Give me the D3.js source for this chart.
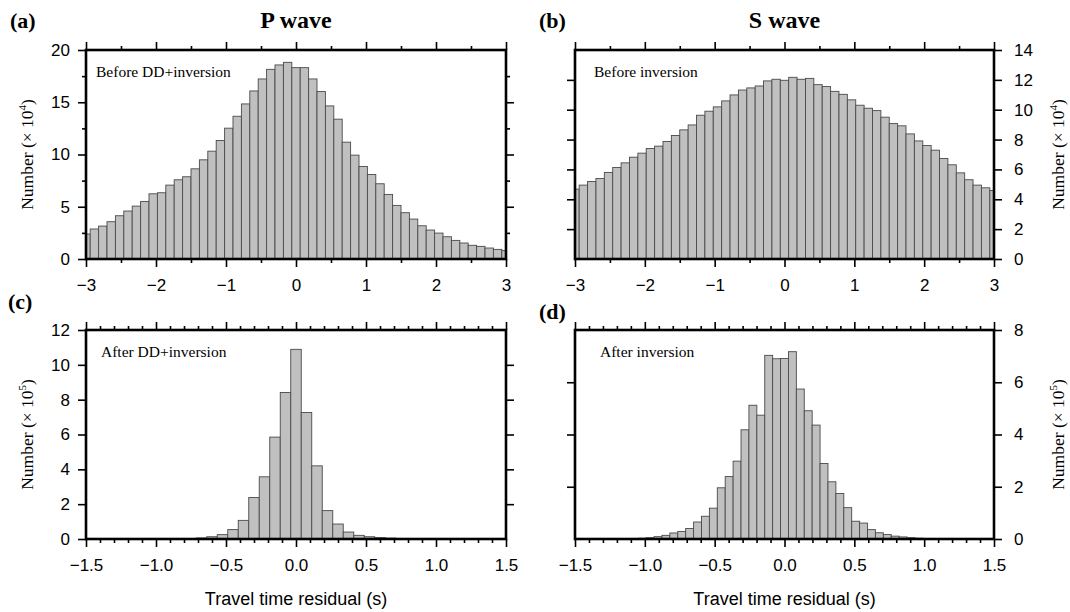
<!DOCTYPE html>
<html>
<head>
<meta charset="utf-8">
<script src="https://cdn.jsdelivr.net/npm/d3@7"></script>
<style>
  body { margin: 0; background: #fff; }
  svg { display: block; }
</style>
</head>
<body>
<svg id="chart" width="1070" height="612"></svg>
<script>
// Travel-time residual histograms. Counts per bin; bins are centred on k * binWidth.

// (a) P wave before DD+inversion, counts in units of 10^4, bin 0.12 s
const pBeforeBinWidth = 0.12;
const pBefore = [
  2.39, 2.87, 3.15, 3.57, 4.14, 4.59, 5.06, 5.51, 6.24, 6.34,
  7.07, 7.58, 7.87, 8.63, 9.49, 10.32, 11.34, 12.52, 13.66, 14.84,
  16.08, 17.23, 18.15, 18.57, 18.82, 18.31, 18.31, 17.23, 16.02, 14.65,
  13.38, 11.18, 9.94, 8.85, 8.09, 7.20, 6.18, 5.13, 4.43, 3.82,
  3.18, 2.77, 2.48, 2.13, 1.78, 1.53, 1.31, 1.21, 1.05, 0.92, 0.80
];

// (b) S wave before inversion, counts in units of 10^4, bin 0.12 s
const sBeforeBinWidth = 0.12;
const sBefore = [
  4.68, 4.95, 5.19, 5.39, 5.80, 6.13, 6.44, 6.82, 7.09, 7.40,
  7.56, 7.87, 8.27, 8.65, 8.98, 9.63, 9.90, 10.19, 10.59, 10.99,
  11.32, 11.46, 11.59, 11.93, 12.04, 11.97, 12.17, 12.04, 12.10, 11.68,
  11.55, 11.23, 11.03, 10.66, 10.30, 10.10, 9.94, 9.50, 9.07, 8.92,
  8.38, 7.91, 7.60, 7.29, 6.73, 6.31, 5.77, 5.31, 4.95, 4.77, 4.59
];

// (c) P wave after DD+inversion, counts in units of 10^5, bin 0.075 s
const pAfterBinWidth = 0.075;
const pAfter = [
  0.004, 0.004, 0.005, 0.006, 0.007, 0.008, 0.010, 0.012, 0.015, 0.02,
  0.03, 0.06, 0.13, 0.25, 0.54, 1.07, 2.38, 3.57, 5.85, 8.41,
  10.89,
  7.26, 4.20, 1.63, 0.86, 0.40, 0.21, 0.13, 0.08, 0.05, 0.03,
  0.02, 0.015, 0.012, 0.010, 0.008, 0.006, 0.005, 0.004, 0.003, 0.003
];

// (d) S wave after inversion, counts in units of 10^5, 53 bins over 3 s
const sAfterBinWidth = 3 / 53;
const sAfter = [
  0.003, 0.003, 0.004, 0.005, 0.006, 0.008,
  0.01, 0.02, 0.03, 0.05, 0.09, 0.14, 0.23, 0.29, 0.40, 0.65,
  0.87, 1.18, 1.96, 2.39, 2.98, 4.18, 5.12, 4.74,
  7.03, 6.90, 6.91, 7.17,
  5.74, 4.91, 4.36, 2.89, 2.19, 1.74, 1.20, 0.68, 0.61, 0.36,
  0.24, 0.17, 0.11, 0.08, 0.05, 0.03, 0.02, 0.01,
  0.008, 0.006, 0.005, 0.004, 0.003, 0.003, 0.002
];

// Tick values
const wideMajor = [-3, -2, -1, 0, 1, 2, 3];
const wideMinor = [-2.5, -1.5, -0.5, 0.5, 1.5, 2.5];
const narrowMajor = [-1.5, -1.0, -0.5, 0.0, 0.5, 1.0, 1.5];
const narrowMinor = d3.range(-14, 15).filter(i => i % 5 !== 0).map(i => i / 10);
const pBeforeYMajor = [0, 5, 10, 15, 20];
const pBeforeYMinor = [2.5, 7.5, 12.5, 17.5];
const sBeforeYMajor = [0, 2, 4, 6, 8, 10, 12, 14];
const pAfterYMajor = [0, 2, 4, 6, 8, 10, 12];
const sAfterYMajor = [0, 2, 4, 6, 8];

const svg = d3.select("#chart");
const SANS = "'Liberation Sans', Arial, Helvetica, sans-serif";
const SERIF = "'Liberation Serif', 'Times New Roman', serif";

const panels = [
  { left: 86, top: 50, width: 420, height: 209, xDomain: [-3, 3], yMax: 20,
    values: pBefore, binWidth: pBeforeBinWidth, xMajor: wideMajor, xMinor: wideMinor,
    yMajor: pBeforeYMajor, yMinor: pBeforeYMinor, side: "left", exp: "4",
    note: "Before DD+inversion", noteDx: 10, xFmt: d3.format("d"),
    tag: "(a)", tagX: 10, tagY: 20, title: "P wave", xTitle: false },
  { left: 575, top: 50, width: 419, height: 209, xDomain: [-3, 3], yMax: 14,
    values: sBefore, binWidth: sBeforeBinWidth, xMajor: wideMajor, xMinor: wideMinor,
    yMajor: sBeforeYMajor, yMinor: [], side: "right", exp: "4",
    note: "Before inversion", noteDx: 19, xFmt: d3.format("d"),
    tag: "(b)", tagX: 539, tagY: 20, title: "S wave", xTitle: false },
  { left: 86, top: 330, width: 420, height: 209, xDomain: [-1.5, 1.5], yMax: 12,
    values: pAfter, binWidth: pAfterBinWidth, xMajor: narrowMajor, xMinor: narrowMinor,
    yMajor: pAfterYMajor, yMinor: [], side: "left", exp: "5",
    note: "After DD+inversion", noteDx: 15, xFmt: d3.format(".1f"),
    tag: "(c)", tagX: 8, tagY: 301, title: null, xTitle: true },
  { left: 575, top: 330, width: 419, height: 209, xDomain: [-1.5, 1.5], yMax: 8,
    values: sAfter, binWidth: sAfterBinWidth, xMajor: narrowMajor, xMinor: narrowMinor,
    yMajor: sAfterYMajor, yMinor: [], side: "right", exp: "5",
    note: "After inversion", noteDx: 25, xFmt: d3.format(".1f"),
    tag: "(d)", tagX: 539, tagY: 311, title: null, xTitle: true }
];

function styleAxis(g, fontSize) {
  g.select(".domain").remove();
  g.selectAll(".tick line").attr("stroke", "#000").attr("stroke-width", 1.6);
  g.selectAll(".tick text").attr("fill", "#000")
    .style("font-family", SANS).style("font-size", fontSize + "px");
}

panels.forEach(p => {
  const x = d3.scaleLinear().domain(p.xDomain).range([p.left, p.left + p.width]);
  const y = d3.scaleLinear().domain([0, p.yMax]).range([p.top + p.height, p.top]);
  const g = svg.append("g");
  const n = p.values.length;
  const mid = (n - 1) / 2;

  // histogram bars, clipped to the axis range
  const bins = p.values.map((v, i) => {
    const c = (i - mid) * p.binWidth;
    return {
      x0: Math.max(p.xDomain[0], c - p.binWidth / 2),
      x1: Math.min(p.xDomain[1], c + p.binWidth / 2),
      v: v
    };
  });
  g.append("g").selectAll("rect").data(bins).join("rect")
    .attr("x", d => x(d.x0))
    .attr("width", d => x(d.x1) - x(d.x0))
    .attr("y", d => y(d.v))
    .attr("height", d => y(0) - y(d.v))
    .attr("fill", "#c0c0c0")
    .attr("stroke", "#4a4a4a")
    .attr("stroke-width", 0.9);

  const bottomY = p.top + p.height;
  const rightX = p.left + p.width;

  // x axes: labelled bottom, unlabelled top, with minor ticks
  const xb = g.append("g").attr("transform", `translate(0,${bottomY})`)
    .call(d3.axisBottom(x).tickValues(p.xMajor).tickSize(8).tickPadding(12).tickFormat(p.xFmt));
  styleAxis(xb, 17);
  const xbm = g.append("g").attr("transform", `translate(0,${bottomY})`)
    .call(d3.axisBottom(x).tickValues(p.xMinor).tickSize(4).tickFormat(""));
  styleAxis(xbm, 17);
  const xt = g.append("g").attr("transform", `translate(0,${p.top})`)
    .call(d3.axisTop(x).tickValues(p.xMajor).tickSize(8).tickFormat(""));
  styleAxis(xt, 17);
  const xtm = g.append("g").attr("transform", `translate(0,${p.top})`)
    .call(d3.axisTop(x).tickValues(p.xMinor).tickSize(4).tickFormat(""));
  styleAxis(xtm, 17);

  // y axes: labelled on one side, ticks only on the other
  const labelled = p.side === "left"
    ? d3.axisLeft(y).tickPadding(8) : d3.axisRight(y).tickPadding(12);
  const plain = p.side === "left" ? d3.axisRight(y) : d3.axisLeft(y);
  const labX = p.side === "left" ? p.left : rightX;
  const plainX = p.side === "left" ? rightX : p.left;
  const yl = g.append("g").attr("transform", `translate(${labX},0)`)
    .call(labelled.tickValues(p.yMajor).tickSize(8).tickFormat(d3.format("d")));
  styleAxis(yl, 17);
  const yp = g.append("g").attr("transform", `translate(${plainX},0)`)
    .call(plain.tickValues(p.yMajor.filter(v => v > 0 && v < p.yMax)).tickSize(8).tickFormat(""));
  styleAxis(yp, 17);
  if (p.yMinor.length) {
    [d3.axisLeft(y), d3.axisRight(y)].forEach((ax, j) => {
      const a = g.append("g").attr("transform", `translate(${j === 0 ? p.left : rightX},0)`)
        .call(ax.tickValues(p.yMinor).tickSize(4).tickFormat(""));
      styleAxis(a, 17);
    });
  }

  // thick frame
  g.append("rect")
    .attr("x", p.left).attr("y", p.top)
    .attr("width", p.width).attr("height", p.height)
    .attr("fill", "none").attr("stroke", "#000").attr("stroke-width", 2.6);

  // inner annotation
  g.append("text")
    .attr("x", p.left + p.noteDx).attr("y", p.top + 22)
    .attr("dy", "0.35em")
    .style("font-family", SERIF).style("font-size", "15.5px")
    .text(p.note);

  // y-axis title with exponent
  const tx = p.side === "left" ? 27 : 1058;
  const ty = p.top + p.height / 2;
  const t = g.append("text")
    .attr("transform", `translate(${tx},${ty}) rotate(-90)`)
    .attr("text-anchor", "middle").attr("dy", "0.35em")
    .style("font-family", SERIF).style("font-size", "17.5px");
  t.append("tspan").text("Number (\u00d7 10");
  t.append("tspan").attr("dy", -7).style("font-size", "11px").text(p.exp);
  t.append("tspan").attr("dy", 7).text(")");

  // panel tag
  svg.append("text")
    .attr("x", p.tagX).attr("y", p.tagY).attr("dy", "0.35em")
    .style("font-family", SERIF).style("font-size", "22px").style("font-weight", "bold")
    .text(p.tag);

  if (p.title) {
    svg.append("text")
      .attr("x", p.left + p.width / 2).attr("y", 20).attr("dy", "0.35em")
      .attr("text-anchor", "middle")
      .style("font-family", SERIF).style("font-size", "24px").style("font-weight", "bold")
      .text(p.title);
  }
  if (p.xTitle) {
    svg.append("text")
      .attr("x", p.left + p.width / 2).attr("y", 599).attr("dy", "0.35em")
      .attr("text-anchor", "middle")
      .style("font-family", SANS).style("font-size", "18px")
      .text("Travel time residual (s)");
  }
});
</script>
</body>
</html>
